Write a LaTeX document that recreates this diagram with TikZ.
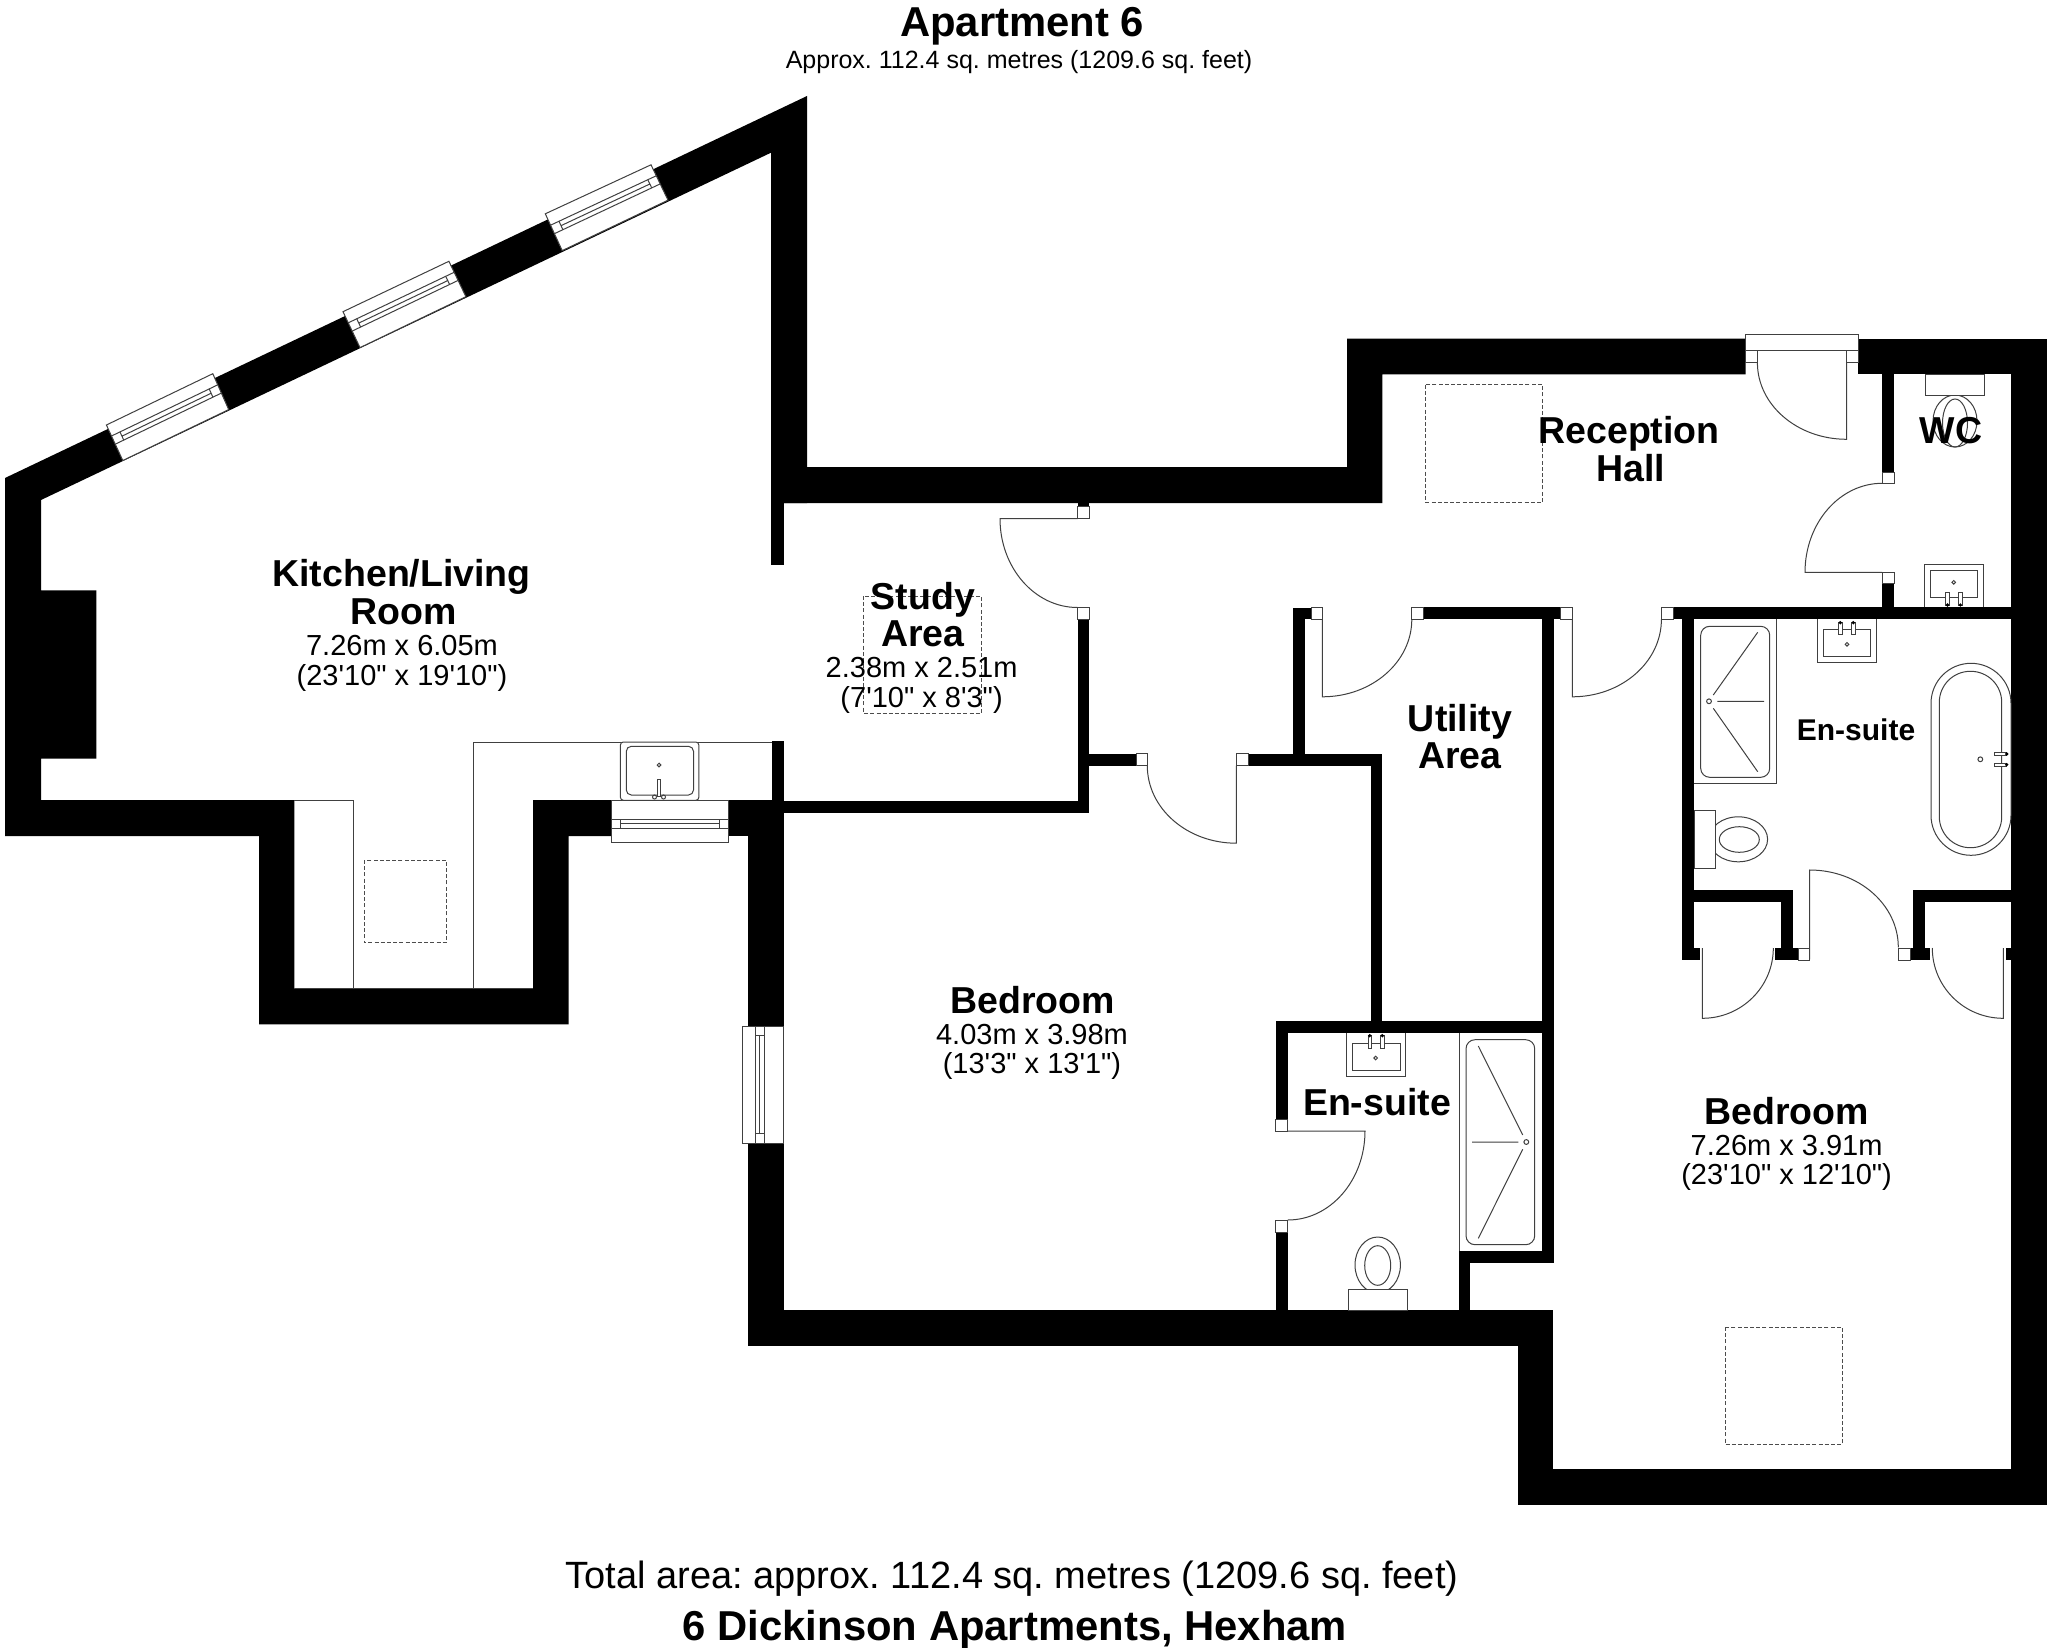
\documentclass[tikz,border=0pt]{standalone}
\usepackage{fontspec}
\setmainfont{Liberation Sans}
\newfontfamily\plainfigs{Liberation Sans}
\frenchspacing
\usetikzlibrary{calc}
\newcommand{\wb}[4]{\fill[black] (#1,#2) rectangle (#3,#4);}
\newcommand{\jamb}[4]{\draw[fix,fill=white] (#1,#2) rectangle (#3,#4);}
% door: hinge, leaf end, jamb end, tangent corner
\newcommand{\swing}[4]{\draw[fix] (#1) -- (#2) .. controls ($(#2)!0.5523!(#4)$) and ($(#3)!0.5523!(#4)$) .. (#3);}
% window: outer a, outer b, inner a, inner b
\newcommand{\WP}[2]{($($(wa)!#1!(wb)$)!#2!($(wc)!#1!(wd)$)$)}
\newcommand{\glaze}[4]{%
  \coordinate (wa) at (#1); \coordinate (wb) at (#2); \coordinate (wc) at (#3); \coordinate (wd) at (#4);
  \draw[fix,fill=white] (wa) -- (wb) -- (wd) -- (wc) -- cycle;
  \draw[fix] \WP{0}{.31} -- \WP{1}{.31} \WP{0}{.54} -- \WP{1}{.54};
  \draw[fix] \WP{.08}{.31} -- \WP{.08}{.54} \WP{.92}{.31} -- \WP{.92}{.54} \WP{.08}{.43} -- \WP{.92}{.43};
}
\newcommand{\tapv}[3]{\draw[fix,fill=white] (#1-1.7,#2) rectangle (#1+1.7,#3); \fill[black] (#1,#2) circle[radius=1.8pt];}
\newcommand{\taph}[3]{\draw[fix,fill=white] (#1,#3-1.7) rectangle (#2,#3+1.7); \fill[black] (#2,#3) circle[radius=1.8pt];}
\tikzset{
  x=1pt,y=-1pt,
  fix/.style={line width=1pt,draw=black!75},
  skylight/.style={line width=1pt,draw=black!70,dash pattern=on 4pt off 2.2pt},
  roomname/.style={font=\fontsize{37.5}{37}\selectfont\bfseries,anchor=base,inner sep=0pt},
  roomsmall/.style={font=\fontsize{30}{30}\selectfont\bfseries,anchor=base,inner sep=0pt},
  dims/.style={font=\plainfigs\fontsize{29}{29}\selectfont,anchor=base,inner sep=0pt},
  heading/.style={font=\fontsize{41.8}{42}\selectfont\bfseries,anchor=base,inner sep=0pt},
  subhead/.style={font=\fontsize{25}{25}\selectfont,anchor=base,inner sep=0pt},
  totalline/.style={font=\fontsize{38}{38}\selectfont,anchor=base,inner sep=0pt},
}
\begin{document}
\begin{tikzpicture}
\useasboundingbox (0,0) rectangle (2048,1648);
\fill[white] (0,0) rectangle (2048,1648);
% ---------- outer walls
\fill[black] (5,478) -- (807,96) -- (807,503) -- (771,503) -- (771,152.7) -- (41,500) -- (41,590.4) -- (96.3,590.4) -- (96.3,758.6) -- (41,758.6) -- (41,800) -- (294.3,800) -- (294.3,988.7) -- (533,988.7) -- (533,800) -- (611.4,800) -- (611.4,836) -- (568.6,836) -- (568.6,1024.3) -- (259,1024.3) -- (259,836) -- (5,836) -- cycle;
\fill[black] (783.5,467) -- (1347,467) -- (1347,338.7) -- (1745.5,338.7) -- (1745.5,374.3) -- (1382.4,374.3) -- (1382.4,503) -- (783.5,503) -- cycle;
\wb{771}{503}{783.5}{565}
\wb{771.8}{741}{783.5}{800}
\wb{728.4}{800}{783.5}{836}
\wb{748}{836}{783.5}{1026}
\wb{748}{1143.3}{783.5}{1310}
\wb{748}{1310}{1553.3}{1345.7}
\wb{1518}{1345.7}{1553.3}{1505.3}
\wb{1518}{1469.3}{2046.7}{1505.3}
\wb{2011}{338.7}{2046.7}{1505.3}
\wb{1858.3}{338.7}{2046.7}{374.3}
% ---------- inner walls
\wb{783.5}{800.7}{1089}{812.9}
\wb{1077.5}{619.3}{1089}{812.9}
\wb{1077.5}{503}{1089}{506.8}
\wb{1089}{753.6}{1136}{765.7}
\wb{1248}{753.6}{1382.4}{765.7}
\wb{1370.6}{753.6}{1382.4}{1020.7}
\wb{1293}{607.5}{1304.5}{753.6}
\wb{1293}{607.5}{1311}{619.3}
\wb{1423.5}{607.3}{1560.7}{619.3}
\wb{1541.7}{607.3}{1553.5}{1262.7}
\wb{1673.2}{607.3}{2011}{619.3}
\wb{1682.3}{619.3}{1694.3}{960}
\wb{1682.3}{948.3}{1700}{960}
\wb{1882.2}{374.3}{1894.2}{472}
\wb{1882.2}{583.3}{1894.2}{607.3}
\wb{1694.3}{890}{1792.7}{902}
\wb{1780.7}{890}{1792.7}{948.3}
\wb{1775.3}{948.3}{1798}{960}
\wb{1910.7}{948.3}{1930}{960}
\wb{1912.7}{890}{1925}{948.3}
\wb{1912.7}{890}{2011}{902}
\wb{2006}{948.3}{2011}{960}
\wb{1275.7}{1020.7}{1553.3}{1032.7}
\wb{1275.7}{1032.7}{1287.7}{1119.3}
\wb{1275.7}{1232}{1287.7}{1310}
\wb{1459}{1251}{1553.3}{1262.7}
\wb{1459}{1251}{1470.3}{1310}
% ---------- door jambs
\jamb{1077.5}{506.8}{1089}{518.6}
\jamb{1077.5}{607.5}{1089}{619.3}
\jamb{1136}{753.6}{1147.3}{765.7}
\jamb{1236.3}{753.6}{1248}{765.7}
\jamb{1311}{607.5}{1322.4}{619.3}
\jamb{1411.7}{607.4}{1423.5}{619.3}
\jamb{1560.7}{607.3}{1572.3}{619.3}
\jamb{1661.4}{607.3}{1673.2}{619.3}
\jamb{1745.5}{334.7}{1858.3}{350.7}
\jamb{1745.5}{350.7}{1757.4}{362.7}
\jamb{1846.7}{350.7}{1858.3}{362.7}
\jamb{1882.2}{472}{1894.2}{483.3}
\jamb{1882.2}{572.3}{1894.2}{583.3}
\jamb{1798}{948}{1809.7}{960}
\jamb{1898.3}{948}{1910.7}{960}
\jamb{1275.7}{1119.3}{1287.7}{1131.3}
\jamb{1275.7}{1220}{1287.7}{1232}
% ---------- door swings
\swing{1077.5,518.6}{1000,518.6}{1077.5,607.5}{1000,607.5}
\swing{1236.3,765.7}{1236.3,843.2}{1147.3,765.7}{1147.3,843.2}
\swing{1322.4,619.3}{1322.4,696.8}{1411.8,619.3}{1411.8,696.8}
\swing{1572.3,619.3}{1572.3,696.8}{1661.4,619.3}{1661.4,696.8}
\swing{1846.7,362.7}{1846.7,439.3}{1757.4,362.7}{1757.4,439.3}
\swing{1882.2,572.3}{1805,572.3}{1882.2,483.3}{1805,483.3}
\swing{1702.3,948}{1702.3,1018.3}{1773.3,948}{1773.3,1018.3}
\swing{2003.3,948}{2003.3,1018.3}{1932.3,948}{1932.3,1018.3}
\swing{1809.7,959.3}{1809.7,870}{1898.3,947.3}{1898.3,870}
\swing{1287.7,1131}{1365,1131}{1287.7,1220}{1365,1220}
% ---------- windows
\glaze{106.4,425}{212.8,373.7}{122.8,460.5}{228.7,409.6}
\glaze{343,311.7}{448.9,261.3}{360,347.6}{465.9,296.7}
\glaze{545.3,213.8}{651,164.8}{562.2,250.6}{668,200.2}
\glaze{611.4,842}{728.4,842}{611.4,800}{728.4,800}
\glaze{742.3,1026}{742.3,1143.3}{783.3,1026}{783.3,1143.3}
% ---------- kitchen units
\draw[fix] (473.8,988.7) -- (473.8,742) -- (771.8,742);
\draw[fix] (294.3,800) -- (353,800) -- (353,988.7);
\draw[fix] (294.3,988.7) -- (533,988.7);
\draw[fix,fill=white,rounded corners=3pt] (620.4,742) rectangle (698.8,800.3);
\draw[fix,rounded corners=5pt] (626.3,746.3) rectangle (693.5,795);
\draw[fix] (659,765) circle[radius=1.8pt];
\draw[fix,fill=white] (657.5,779.3) rectangle (660.3,796.7);
\draw[fix] (654.5,797) circle[radius=2pt] (663.5,797) circle[radius=2pt];
% ---------- skylights
\draw[skylight] (364.2,860) rectangle (446.3,942.7);
\draw[skylight] (863.7,596) rectangle (981.2,713.4);
\draw[skylight] (1425.2,384.7) rectangle (1542.6,502.3);
\draw[skylight] (1725,1327) rectangle (1842.3,1444.3);
% ---------- WC
\draw[fix] (1955,421) ellipse[x radius=22pt,y radius=26pt];
\draw[fix] (1955,423) ellipse[x radius=12.5pt,y radius=24pt];
\draw[fix,fill=white] (1925.6,374.3) rectangle (1984.7,395.3);
\draw[fix] (1924.4,607.3) -- (1924.4,564.3) -- (1983.5,564.3) -- (1983.5,607.3);
\draw[fix] (1930,570) rectangle (1977.3,597.3);
\draw[fix] (1953.7,582.3) circle[radius=1.8pt];
\tapv{1947.5}{605}{592.7}
\tapv{1960.3}{605}{592.7}
% ---------- large en-suite
\draw[fix] (1694.3,783.3) -- (1776.7,783.3) -- (1776.7,619.3);
\draw[fix,rounded corners=9pt] (1700.7,626.3) rectangle (1769.7,777.3);
\draw[fix] (1709,701.3) circle[radius=2.4pt];
\draw[fix] (1713.3,695) -- (1757.7,632.3) (1717.3,701.3) -- (1764,701.3) (1713.3,708.3) -- (1757.7,771.7);
\draw[fix] (1817.7,619.3) -- (1817.7,662.3) -- (1876.7,662.3) -- (1876.7,619.3);
\draw[fix] (1823.3,629.3) rectangle (1870.7,656.7);
\draw[fix] (1847,644.3) circle[radius=1.8pt];
\tapv{1840.3}{622.7}{634.3}
\tapv{1853.3}{622.7}{634.3}
\draw[fix,rounded corners=40pt] (1931,663.3) rectangle (2011,855.3);
\draw[fix,rounded corners=31pt] (1939.3,671.3) rectangle (2001.7,847.7);
\draw[fix] (1980.3,759.3) circle[radius=2.4pt];
\taph{1994.3}{2006.7}{754}
\taph{1994.3}{2006.7}{764.7}
\draw[fix] (1738.3,839.3) ellipse[x radius=29.3pt,y radius=22.5pt];
\draw[fix] (1739.3,839.5) ellipse[x radius=20pt,y radius=12.8pt];
\draw[fix,fill=white] (1694.3,810) rectangle (1715.7,868.7);
% ---------- small en-suite
\draw[fix] (1459.3,1251) -- (1459.3,1032.7);
\draw[fix,rounded corners=9pt] (1466,1039.7) rectangle (1534.7,1244.7);
\draw[fix] (1526.3,1142) circle[radius=2.4pt];
\draw[fix] (1522.7,1135) -- (1478.3,1046) (1518.3,1142) -- (1472,1142) (1522.7,1149.3) -- (1478.3,1238.3);
\draw[fix] (1346.7,1032.7) -- (1346.7,1076) -- (1405.3,1076) -- (1405.3,1032.7);
\draw[fix] (1352.3,1043) rectangle (1400,1070.3);
\draw[fix] (1375.7,1058) circle[radius=1.8pt];
\tapv{1369.7}{1035.7}{1048.3}
\tapv{1382.3}{1035.7}{1048.3}
\draw[fix] (1377.7,1265) ellipse[x radius=22.7pt,y radius=28pt];
\draw[fix] (1377.7,1265.5) ellipse[x radius=13pt,y radius=19.8pt];
\draw[fix,fill=white] (1348.3,1289.3) rectangle (1407,1310);
% ---------- texts
\node[heading] (title) at (1022,37) {Apartment 6};
\node[subhead] (approx) at (1019,69) {Approx. 112.4 sq. metres (1209.6 sq. feet)};
\node[roomname] (kit1) at (401.6,586) {Kitchen/Living};
\node[roomname] (kit2) at (404,624) {Room};
\node[dims] (kit3) at (402,655.5) {7.26m x 6.05m};
\node[dims] (kit4) at (402,685.5) {(23'10" x 19'10")};
\node[roomname] (study1) at (923,609) {Study};
\node[roomname] (study2) at (923,646) {Area};
\node[dims] (study3) at (921.6,677) {2.38m x 2.51m};
\node[dims] (study4) at (921.6,707.5) {(7'10" x 8'3")};
\node[roomname] (rec1) at (1629,443) {Reception};
\node[roomname] (rec2) at (1631,481) {Hall};
\node[roomname] (wc) at (1951,443) {WC};
\node[roomname] (util1) at (1460,731) {Utility};
\node[roomname] (util2) at (1460,768) {Area};
\node[roomsmall] (ens1) at (1856,740) {En-suite};
\node[roomname] (bed1) at (1032.5,1013.5) {Bedroom};
\node[dims] (bed2) at (1032,1044.5) {4.03m x 3.98m};
\node[dims] (bed3) at (1032,1073.5) {(13'3" x 13'1")};
\node[roomname] (ens2) at (1377,1115) {En-suite};
\node[roomname] (bedb1) at (1786.6,1124.5) {Bedroom};
\node[dims] (bedb2) at (1786.6,1155.5) {7.26m x 3.91m};
\node[dims] (bedb3) at (1786.6,1184.5) {(23'10" x 12'10")};
\node[totalline] (total) at (1012,1588.5) {Total area: approx. 112.4 sq. metres (1209.6 sq. feet)};
\node[heading] (addr) at (1015,1640) {6 Dickinson Apartments, Hexham};
\end{tikzpicture}
\end{document}
